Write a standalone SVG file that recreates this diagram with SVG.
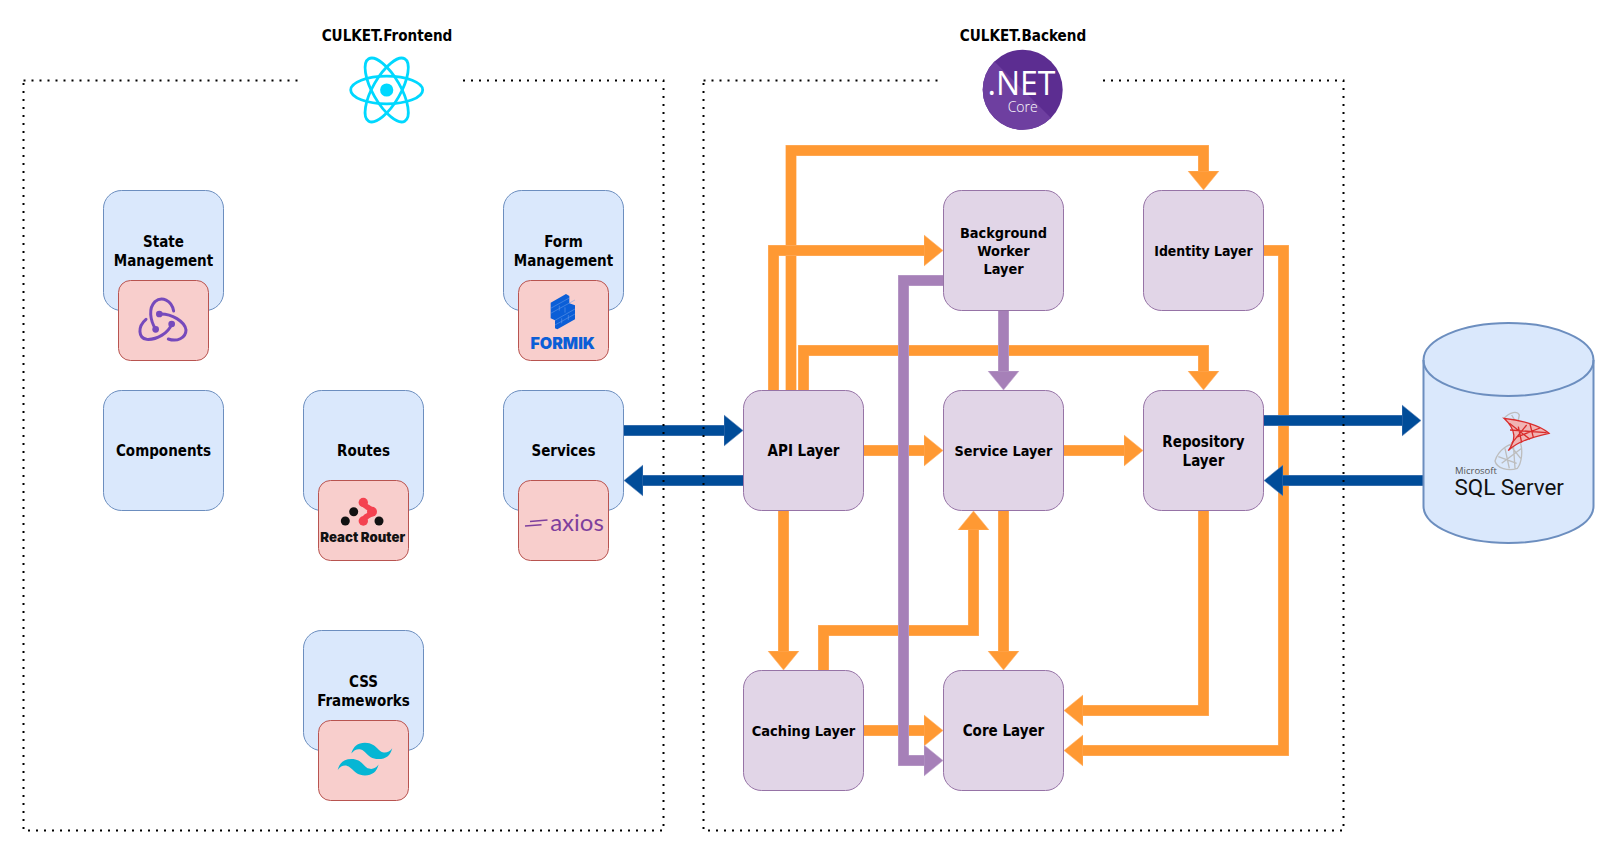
<svg xmlns="http://www.w3.org/2000/svg" width="1615" height="853" viewBox="0 0 1615 853">
<style>
text{font-family:"DejaVu Sans Condensed","DejaVu Sans",sans-serif;font-stretch:condensed;font-weight:700;font-size:15px;text-anchor:middle;fill:#000}
.title{font-size:15.1px}
.blue{fill:#DAE8FC;stroke:#6C8EBF;stroke-width:1}
.lilac{fill:#E1D5E7;stroke:#9673A6;stroke-width:1}
.red{fill:#F8CECC;stroke:#B85450;stroke-width:1}
.frame{fill:none;stroke:#000;stroke-width:2;stroke-dasharray:2 6}
.c{fill:none;stroke-width:10}
.ce{fill:none;stroke-width:11}
.o{stroke:#FF9933}.oe{stroke:#FFB570}
.p{stroke:#A680B8}.pe{stroke:#C3ABD0}
.b{stroke:#004C99}.be{stroke:#6C8EBF}
.logo{font-family:"Open Sans",sans-serif;font-stretch:normal}
</style>
<defs>
<marker id="ho" viewBox="0 0 19 33" refX="0" refY="16.5" markerWidth="19" markerHeight="33" markerUnits="userSpaceOnUse" orient="auto"><polygon points="0,1 19,16.5 0,32" fill="#FF9933" stroke="#FFB570" stroke-width="0.6"/></marker>
<marker id="hp" viewBox="0 0 19 33" refX="0" refY="16.5" markerWidth="19" markerHeight="33" markerUnits="userSpaceOnUse" orient="auto"><polygon points="0,1 19,16.5 0,32" fill="#A680B8" stroke="#C3ABD0" stroke-width="0.6"/></marker>
<marker id="hb" viewBox="0 0 19 33" refX="0" refY="16.5" markerWidth="19" markerHeight="33" markerUnits="userSpaceOnUse" orient="auto"><polygon points="0,1 19,16.5 0,32" fill="#004C99" stroke="#6C8EBF" stroke-width="0.6"/></marker>
</defs>

<g id="connectors">
<g id="api-identity"><path class="ce oe" d="M791 390V150.5H1203.5V171"/><path class="c o" d="M791 390V150.5H1203.5V171" marker-end="url(#ho)"/></g>
<g id="api-background"><path class="ce oe" d="M773.5 390V250.5H924"/><path class="c o" d="M773.5 390V250.5H924" marker-end="url(#ho)"/></g>
<g id="api-repository"><path class="ce oe" d="M803.5 390V350.5H1203.5V371"/><path class="c o" d="M803.5 390V350.5H1203.5V371" marker-end="url(#ho)"/></g>
<g id="api-service"><path class="ce oe" d="M863.5 450.5H924"/><path class="c o" d="M863.5 450.5H924" marker-end="url(#ho)"/></g>
<g id="service-repository"><path class="ce oe" d="M1063.5 450.5H1124"/><path class="c o" d="M1063.5 450.5H1124" marker-end="url(#ho)"/></g>
<g id="api-caching"><path class="ce oe" d="M783.5 510V651"/><path class="c o" d="M783.5 510V651" marker-end="url(#ho)"/></g>
<g id="caching-service"><path class="ce oe" d="M823.5 670V630.5H973.5V530"/><path class="c o" d="M823.5 670V630.5H973.5V530" marker-end="url(#ho)"/></g>
<g id="service-core"><path class="ce oe" d="M1003.5 510V651"/><path class="c o" d="M1003.5 510V651" marker-end="url(#ho)"/></g>
<g id="repository-core"><path class="ce oe" d="M1203.5 510V710.5H1083"/><path class="c o" d="M1203.5 510V710.5H1083" marker-end="url(#ho)"/></g>
<g id="identity-core"><path class="ce oe" d="M1263.5 250.5H1283.5V750.5H1083"/><path class="c o" d="M1263.5 250.5H1283.5V750.5H1083" marker-end="url(#ho)"/></g>
<g id="caching-core"><path class="ce oe" d="M863.5 730.5H924"/><path class="c o" d="M863.5 730.5H924" marker-end="url(#ho)"/></g>
<g id="background-service"><path class="ce pe" d="M1003.5 310V371"/><path class="c p" d="M1003.5 310V371" marker-end="url(#hp)"/></g>
<g id="background-core"><path class="ce pe" d="M943 280.5H903.5V760.5H924"/><path class="c p" d="M943 280.5H903.5V760.5H924" marker-end="url(#hp)"/></g>
<g id="services-api"><path class="ce be" d="M624 430.5H724"/><path class="c b" d="M624 430.5H724" marker-end="url(#hb)"/></g>
<g id="api-services"><path class="ce be" d="M743 480.5H643"/><path class="c b" d="M743 480.5H643" marker-end="url(#hb)"/></g>
<g id="repository-sql"><path class="ce be" d="M1264 420.5H1402"/><path class="c b" d="M1264 420.5H1402" marker-end="url(#hb)"/></g>
<g id="sql-repository"><path class="ce be" d="M1423 480.5H1283"/><path class="c b" d="M1423 480.5H1283" marker-end="url(#hb)"/></g>
</g>

<g id="frontend-frame"><path class="frame" d="M463 80.5H663.5V830.5H23.5V80.5M23.5 80.5H299"/></g>
<g id="backend-frame"><path class="frame" d="M1103 80.5H1343.5V830.5H703.5V80.5M703.5 80.5H939"/></g>

<g id="frontend-title"><text class="title" x="387" y="40.5">CULKET.Frontend</text>
<g id="react-logo" fill="none" stroke="#00D8FF" stroke-width="2.8">
<ellipse cx="386.7" cy="90" rx="36" ry="13.8"/>
<ellipse cx="386.7" cy="90" rx="36" ry="13.8" transform="rotate(60 386.7 90)"/>
<ellipse cx="386.7" cy="90" rx="36" ry="13.8" transform="rotate(120 386.7 90)"/>
<circle cx="386.7" cy="90" r="6.6" fill="#00D8FF" stroke="none"/>
</g></g>

<g id="backend-title"><text class="title" x="1023" y="40.5">CULKET.Backend</text>
<g id="dotnet-logo">
<circle cx="1022.7" cy="89.7" r="40" fill="#5C2D91"/>
<path d="M994.4 61.4A40 40 0 0 0 1051 118Z" fill="#6E3FA0"/>
<text class="logo" x="1021.5" y="95" style="font-size:32px;font-weight:400;fill:#fff">.NET</text>
<text class="logo" x="1022.7" y="112" style="font-size:14px;font-weight:300;fill:#fff">Core</text>
</g></g>

<g id="state-management"><rect class="blue" x="103.5" y="190.5" width="120" height="120" rx="18"/><text x="163.5" y="246.5">State</text><text x="163.5" y="265.5">Management</text></g>
<g id="redux"><rect class="red" x="118.5" y="280.5" width="90" height="80" rx="12"/>
<g transform="translate(100 270) scale(.3333)" fill="none" stroke="#764ABC" stroke-width="9" stroke-linecap="round">
<path d="M167 178C150 150 145 115 165 95C185 78 215 90 221 123"/>
<path d="M178 132C215 130 255 155 258 180C258 205 230 216 205 207"/>
<path d="M215 162C205 190 170 210 140 208C115 205 112 170 138 148"/>
<g fill="#764ABC" stroke="none"><circle cx="178" cy="132" r="10"/><circle cx="215" cy="162" r="10"/><circle cx="167" cy="178" r="10"/></g>
</g></g>

<g id="form-management"><rect class="blue" x="503.5" y="190.5" width="120" height="120" rx="18"/><text x="563.5" y="246.5">Form</text><text x="563.5" y="265.5">Management</text></g>
<g id="formik"><rect class="red" x="518.5" y="280.5" width="90" height="80" rx="12"/>
<g transform="translate(500 270) scale(.3333)">
<path d="M152 98L198 72L208 78V100L225 106V148L172 178L165 175V151L152 145Z" fill="#0B5ED7"/>
<path d="M152 115L208 84M152 130L225 90M165 151L225 117M165 165L225 132M178 107V122M195 112V128M185 145V160M205 135V150" stroke="#6E9EE8" stroke-width="1.6" fill="none"/>
</g>
<text x="562.7" y="348.5" style="font-family:Inter,sans-serif;font-stretch:normal;font-size:16px;font-weight:900;fill:#0B5ED7">FORMIK</text></g>

<g id="components"><rect class="blue" x="103.5" y="390.5" width="120" height="120" rx="18"/><text x="163.5" y="456">Components</text></g>

<g id="routes"><rect class="blue" x="303.5" y="390.5" width="120" height="120" rx="18"/><text x="363.5" y="456">Routes</text></g>
<g id="react-router"><rect class="red" x="318.5" y="480.5" width="90" height="80" rx="12"/>
<g fill="#121212"><circle cx="345.3" cy="521" r="4.5"/><circle cx="353.7" cy="511.7" r="4.5"/><circle cx="379" cy="521" r="4.5"/></g>
<g fill="#F44250"><circle cx="363.3" cy="502.5" r="4.7"/><circle cx="372" cy="511.7" r="5"/><circle cx="363.3" cy="521" r="4.7"/></g>
<path d="M363.3 502.5C364 508 372 507 372 511.7C372 516 364 515 363.3 521" fill="none" stroke="#F44250" stroke-width="5.5"/>
<text x="362.7" y="542.3" style="font-family:Inter,sans-serif;font-stretch:normal;font-size:13.2px;font-weight:900;fill:#121212">React Router</text></g>

<g id="services"><rect class="blue" x="503.5" y="390.5" width="120" height="120" rx="18"/><text x="563.5" y="456">Services</text></g>
<g id="axios"><rect class="red" x="518.5" y="480.5" width="90" height="80" rx="12"/>
<path d="M530 521.5L547.5 520M525 526L541.5 524.7" fill="none" stroke="#7E3F9D" stroke-width="1.6"/>
<text x="577" y="530.5" style="font-family:Lato,sans-serif;font-stretch:normal;font-size:24px;font-weight:400;fill:#7E3F9D">axios</text></g>

<g id="css-frameworks"><rect class="blue" x="303.5" y="630.5" width="120" height="120" rx="18"/><text x="363.5" y="686.5">CSS</text><text x="363.5" y="705.5">Frameworks</text></g>
<g id="tailwind"><rect class="red" x="318.5" y="720.5" width="90" height="80" rx="12"/>
<path transform="translate(337.7 742.7) scale(1.01)" fill="#06B6D4" d="M27 0c-7.2 0-11.7 3.6-13.5 10.8 2.7-3.6 5.85-4.95 9.45-4.05 2.054.513 3.522 2.004 5.147 3.653C30.744 13.09 33.808 16.2 40.5 16.2c7.2 0 11.7-3.6 13.5-10.8-2.7 3.6-5.85 4.95-9.45 4.05-2.054-.513-3.522-2.004-5.147-3.653C36.756 3.11 33.692 0 27 0zM13.5 16.2C6.3 16.2 1.8 19.8 0 27c2.7-3.6 5.85-4.95 9.45-4.05 2.054.514 3.522 2.004 5.147 3.653C17.244 29.29 20.308 32.4 27 32.4c7.2 0 11.7-3.6 13.5-10.8-2.7 3.6-5.85 4.95-9.45 4.05-2.054-.513-3.522-2.004-5.147-3.653C23.256 19.31 20.192 16.2 13.5 16.2z"/></g>

<g id="background-worker-layer"><rect class="lilac" x="943.5" y="190.5" width="120" height="120" rx="18"/><text x="1003.5" y="238" style="font-size:14.4px">Background</text><text x="1003.5" y="256" style="font-size:14.4px">Worker</text><text x="1003.5" y="274" style="font-size:14.4px">Layer</text></g>
<g id="identity-layer"><rect class="lilac" x="1143.5" y="190.5" width="120" height="120" rx="18"/><text x="1203.5" y="256" style="font-size:13.9px">Identity Layer</text></g>
<g id="api-layer"><rect class="lilac" x="743.5" y="390.5" width="120" height="120" rx="18"/><text x="803.5" y="456">API Layer</text></g>
<g id="service-layer"><rect class="lilac" x="943.5" y="390.5" width="120" height="120" rx="18"/><text x="1003.5" y="456" style="font-size:14.3px">Service Layer</text></g>
<g id="repository-layer"><rect class="lilac" x="1143.5" y="390.5" width="120" height="120" rx="18"/><text x="1203.5" y="447">Repository</text><text x="1203.5" y="466">Layer</text></g>
<g id="caching-layer"><rect class="lilac" x="743.5" y="670.5" width="120" height="120" rx="18"/><text x="803.5" y="736" style="font-size:14.5px">Caching Layer</text></g>
<g id="core-layer"><rect class="lilac" x="943.5" y="670.5" width="120" height="120" rx="18"/><text x="1003.5" y="736">Core Layer</text></g>

<g id="sql-server">
<path d="M1423.5 360C1423.5 339.5 1461.5 323 1508.5 323S1593.5 339.5 1593.5 360V506C1593.5 526.5 1555.5 543 1508.5 543S1423.5 526.5 1423.5 506Z" fill="#DAE8FC" stroke="#6C8EBF" stroke-width="2"/>
<path d="M1423.5 360C1423.5 380.5 1461.5 396 1508.5 396S1593.5 380.5 1593.5 360" fill="none" stroke="#6C8EBF" stroke-width="2"/>
<g transform="translate(1430 400) scale(.3333)" fill="none" stroke-width="4">
<path d="M222 55C240 35 262 32 268 45L265 60M245 45L255 62M195 183C205 150 235 130 270 125C280 150 275 190 262 205C235 215 200 205 195 183ZM205 170L260 190M225 145L238 205M250 130L255 205M215 190L275 145M240 135L272 175" stroke="#BDBDBD"/>
<path d="M222 55C270 60 330 75 357 100C310 110 260 125 235 152C258 120 260 90 222 55Z" fill="#F0B4B4" stroke="#D92C2C" stroke-width="4"/>
<path d="M238 70L300 118M258 112L330 84M245 130L290 75M265 80L275 128M300 72L310 112M240 90L350 98" stroke="#D92C2C" stroke-width="4"/>
</g>
<text class="logo" x="1455" y="474" style="text-anchor:start;font-size:9.5px;font-weight:400;fill:#555">Microsoft</text>
<text class="logo" x="1454.5" y="495" style="text-anchor:start;font-family:Roboto,sans-serif;font-size:22.4px;font-weight:400;fill:#111">SQL Server</text>
</g>
</svg>
